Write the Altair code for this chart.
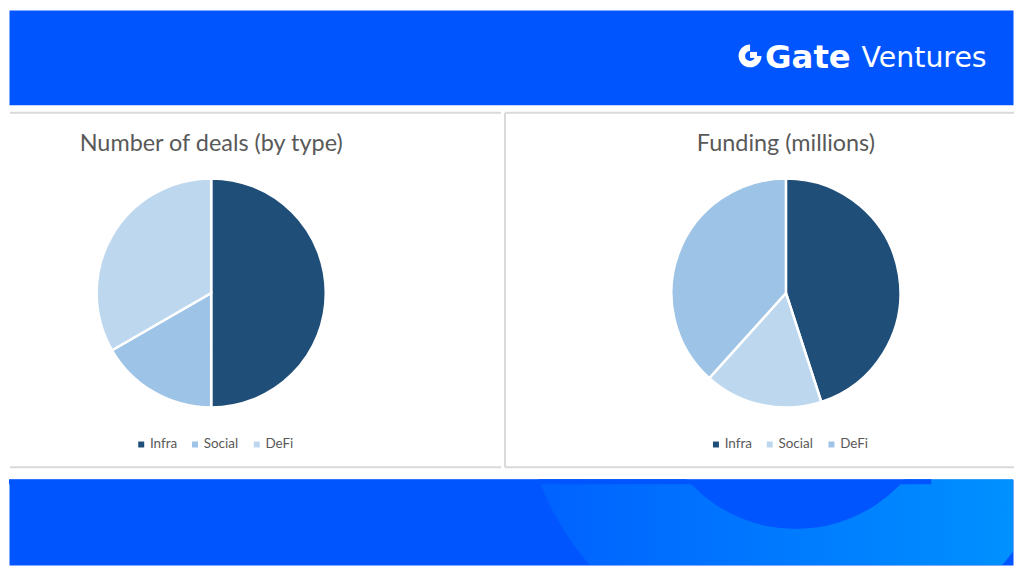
import math
import altair as alt
import pandas as pd

# ---------------- data ----------------
categories = ["Infra", "Social", "DeFi"]
deals_count = [3, 1, 2]
funding_millions = [27, 10, 23]
deal_colors = ["#1F4E79", "#9DC3E6", "#BDD7EE"]
funding_colors = ["#1F4E79", "#BDD7EE", "#9DC3E6"]
panel_titles = ["Number of deals (by type)", "Funding (millions)"]
brand_words = ["Gate", "Ventures"]

# ---------------- layout / style ----------------
BLUE = "#0055FF"
W = 1008
HEAD_H = 95
MID_H = 372
FOOT_H = 86
LEFT_W = 495
RIGHT_W = W - LEFT_W
GRID = "#D9D9D9"
TXT = "#595959"

one = pd.DataFrame({"k": [0]})


def panel(key, values, colors, title, width, cx, legend_x, divider):
    df = pd.DataFrame({key: categories, "value": values,
                       "rank": list(range(len(categories)))})
    pie = alt.Chart(df).mark_arc(outerRadius=115, stroke="white", strokeWidth=2.5).encode(
        theta=alt.Theta("value:Q", stack=True),
        order=alt.Order("rank:Q"),
        color=alt.Color(
            f"{key}:N",
            scale=alt.Scale(domain=categories, range=colors),
            legend=alt.Legend(
                title=None, orient="none", legendX=legend_x, legendY=332,
                direction="horizontal", symbolType="square", symbolSize=36,
                symbolStrokeWidth=0, labelFont="Lato", labelFontSize=13.5,
                labelColor=TXT, labelOffset=2, columnPadding=11,
            ),
        ),
        x=alt.value(cx),
        y=alt.value(187),
    )
    ttl = alt.Chart(pd.DataFrame({"t": [title]})).mark_text(
        font="Lato", fontSize=23.5, color=TXT, align="center", baseline="alphabetic"
    ).encode(text="t:N", x=alt.value(cx), y=alt.value(44))
    top = alt.Chart(one).mark_rule(color=GRID, strokeWidth=2).encode(
        x=alt.value(1), x2=alt.value(width - 1), y=alt.value(6))
    bot = alt.Chart(one).mark_rule(color=GRID, strokeWidth=2).encode(
        x=alt.value(1), x2=alt.value(width - 1), y=alt.value(362))
    layers = [top, bot, pie, ttl]
    if divider:
        layers.append(alt.Chart(one).mark_rule(color=GRID, strokeWidth=2).encode(
            x=alt.value(1), y=alt.value(6), y2=alt.value(362)))
    return alt.layer(*layers).properties(
        width=width, height=MID_H,
        view=alt.ViewBackground(fill="white", stroke="transparent"))


left = panel("deal_type", deals_count, deal_colors, panel_titles[0], LEFT_W, 203, 126, False)
right = panel("funding_type", funding_millions, funding_colors, panel_titles[1], RIGHT_W, 283, 206, True)

# ---------------- header ----------------
icon_ring = alt.Chart(one).mark_arc(
    theta=math.pi / 2, theta2=2 * math.pi, outerRadius=11.5, innerRadius=5, color="white"
).encode(x=alt.value(744), y=alt.value(46))
icon_bar = alt.Chart(one).mark_rect(color="white").encode(
    x=alt.value(744), x2=alt.value(751), y=alt.value(42), y2=alt.value(48))
gate = alt.Chart(pd.DataFrame({"t": [brand_words[0]]})).mark_text(
    font="DejaVu Sans", fontWeight="bold", fontSize=32.5, color="white", align="left",
    baseline="alphabetic").encode(text="t:N", x=alt.value(759), y=alt.value(58))
ventures = alt.Chart(pd.DataFrame({"t": [brand_words[1]]})).mark_text(
    font="DejaVu Sans", fontWeight=400, fontSize=28.5, color="white", align="left",
    baseline="alphabetic").encode(text="t:N", x=alt.value(856), y=alt.value(57))
header = alt.layer(icon_ring, icon_bar, gate, ventures).properties(
    width=W, height=HEAD_H, view=alt.ViewBackground(fill=BLUE, stroke="transparent"))

# ---------------- footer ----------------
grad = alt.LinearGradient(
    gradient="linear",
    stops=[alt.GradientStop(color="#0060FF", offset=0),
           alt.GradientStop(color="#0096FF", offset=1)],
    x1=0, x2=1, y1=0, y2=0)
ring = alt.Chart(one).mark_arc(
    theta=0, theta2=2 * math.pi, outerRadius=275, innerRadius=145, clip=True, fill=grad
).encode(x=alt.value(790), y=alt.value(-95))
strip = alt.Chart(one).mark_rect(color=BLUE).encode(
    x=alt.value(0), x2=alt.value(926), y=alt.value(0), y2=alt.value(5))
footer = alt.layer(ring, strip).properties(
    width=W, height=FOOT_H, view=alt.ViewBackground(fill=BLUE, stroke="transparent"))

middle = alt.hconcat(left, right, spacing=0).resolve_scale(
    color="independent").resolve_legend(color="independent")

chart = alt.vconcat(
    header,
    middle,
    footer,
    spacing=0,
).resolve_scale(color="independent").resolve_legend(color="independent").properties(
    padding=0, background="white").configure_view(stroke="transparent")

chart.save("out.html", embed_options={"renderer": "svg", "actions": False})
